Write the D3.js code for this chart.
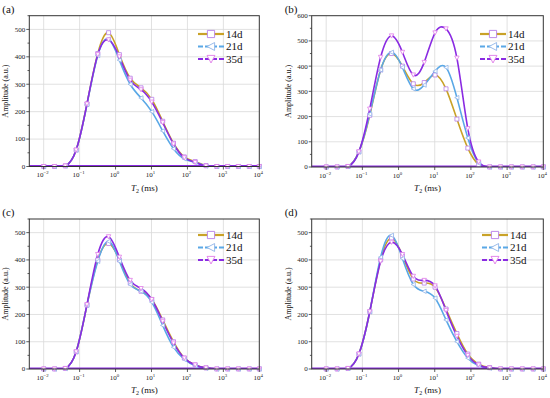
<!DOCTYPE html>
<html>
<head>
<meta charset="utf-8">
<script src="https://cdn.jsdelivr.net/npm/d3@7"></script>
<style>
  body { margin: 0; background: #fff; }
  svg { display: block; }
</style>
</head>
<body>
<script>
// T2 sampling points (ms)
var t2 = [0.01, 0.02, 0.04, 0.08, 0.16, 0.32, 0.64, 1.28, 2.56, 5.12, 10.2,
          20.5, 41, 82, 164, 328, 655, 1311, 2621, 5243, 10000];

var seriesNames = ["14d", "21d", "35d"];
var xTicks = [0.01, 0.1, 1, 10, 100, 1000, 10000];
var xTickExp = ["-2", "-1", "0", "1", "2", "3", "4"];

// panel (a)
var a14 = [0, 0, 2, 60, 228, 412, 488, 408, 322, 287, 245, 165, 85, 35, 18, 3, 0, 0, 0, 0, 0];
var a21 = [0, 0, 2, 60, 226, 405, 465, 388, 300, 250, 200, 130, 65, 28, 15, 2, 0, 0, 0, 0, 0];
var a35 = [0, 0, 2, 60, 228, 408, 462, 400, 315, 280, 235, 160, 82, 32, 15, 2, 0, 0, 0, 0, 0];
// panel (b)
var b14 = [0, 0, 2, 60, 205, 385, 450, 400, 330, 335, 365, 310, 190, 75, 10, 0, 0, 0, 0, 0, 0];
var b21 = [0, 0, 2, 60, 210, 385, 455, 395, 310, 325, 380, 395, 275, 115, 15, 0, 0, 0, 0, 0, 0];
var b35 = [0, 0, 2, 60, 230, 435, 520, 455, 365, 415, 532, 548, 432, 152, 20, 0, 0, 0, 0, 0, 0];
// panel (c)
var c14 = [0, 0, 2, 63, 234, 400, 460, 400, 315, 285, 255, 180, 100, 40, 15, 4, 0, 0, 0, 0, 0];
var c21 = [0, 0, 2, 63, 234, 395, 468, 395, 310, 285, 245, 160, 80, 35, 12, 3, 0, 0, 0, 0, 0];
var c35 = [0, 0, 2, 63, 236, 420, 485, 410, 325, 295, 255, 175, 95, 40, 15, 4, 0, 0, 0, 0, 0];
// panel (d)
var d14 = [0, 0, 2, 55, 210, 400, 480, 415, 330, 315, 300, 220, 130, 55, 18, 5, 0, 0, 0, 0, 0];
var d21 = [0, 0, 2, 55, 210, 410, 490, 405, 310, 285, 260, 180, 100, 40, 12, 3, 0, 0, 0, 0, 0];
var d35 = [0, 0, 2, 55, 210, 395, 465, 420, 340, 325, 305, 215, 120, 50, 15, 4, 0, 0, 0, 0, 0];

var lineColors = ["#c9a227", "#5aa8e6", "#8a2be2"];
var markerColors = ["#b77ee8", "#8fb4e8", "#e07ae8"];
var serif = "Liberation Serif";

var panels = [
  {label: "(a)", left: 29.3, right: 259.3, top: 15.7, bottom: 166.5, ymax: 550, data: [a14, a21, a35], lx: 198, ly: 34},
  {label: "(b)", left: 311.7, right: 543.3, top: 15.7, bottom: 167, ymax: 600, data: [b14, b21, b35], lx: 480, ly: 34},
  {label: "(c)", left: 29.3, right: 259.3, top: 219, bottom: 369, ymax: 550, data: [c14, c21, c35], lx: 198, ly: 235},
  {label: "(d)", left: 311.7, right: 543.3, top: 219, bottom: 369, ymax: 550, data: [d14, d21, d35], lx: 482, ly: 235}
];

var svg = d3.select("body").append("svg")
    .attr("width", 550)
    .attr("height", 398)
    .attr("font-family", serif);
var defs = svg.append("defs");

function markerPath(k, x, y, s) {
  if (k == 0) {
    return "M" + (x - s) + "," + (y - s) + "h" + (2 * s) + "v" + (2 * s) + "h" + (-2 * s) + "Z";
  } else if (k == 1) {
    return "M" + (x - s * 1.1) + "," + y + "L" + (x + s) + "," + (y - s * 1.1) + "L" + (x + s) + "," + (y + s * 1.1) + "Z";
  }
  return "M" + (x - s * 1.1) + "," + (y - s) + "L" + (x + s * 1.1) + "," + (y - s) + "L" + x + "," + (y + s * 1.1) + "Z";
}

panels.forEach(function(p, pi) {
  var x = d3.scaleLog().domain([Math.pow(10, -2.4), 1e4]).range([p.left, p.right]);
  var y = d3.scaleLinear().domain([0, p.ymax]).range([p.bottom, p.top]);
  var g = svg.append("g");

  defs.append("clipPath").attr("id", "clip" + pi)
    .append("rect").attr("x", p.left).attr("y", p.top)
      .attr("width", p.right - p.left).attr("height", p.bottom - p.top - 0.6);

  // grid
  g.selectAll("line.vg").data(xTicks.slice(0, -1)).enter().append("line")
      .attr("x1", function(d) { return x(d); }).attr("x2", function(d) { return x(d); })
      .attr("y1", p.top).attr("y2", p.bottom)
      .attr("stroke", "#d9d9d9").attr("stroke-width", 0.8);
  var yt = d3.range(100, p.ymax, 100);
  g.selectAll("line.hg").data(yt).enter().append("line")
      .attr("x1", p.left).attr("x2", p.right)
      .attr("y1", function(d) { return y(d); }).attr("y2", function(d) { return y(d); })
      .attr("stroke", "#d9d9d9").attr("stroke-width", 0.8);

  // series lines
  var line = d3.line()
      .x(function(d, i) { return x(t2[i]); })
      .y(function(d) { return y(d); })
      .curve(d3.curveNatural);
  var lg = g.append("g").attr("clip-path", "url(#clip" + pi + ")");
  p.data.forEach(function(s, k) {
    lg.append("path").attr("d", line(s))
        .attr("fill", "none").attr("stroke", lineColors[k]).attr("stroke-width", 1.6);
  });
  // flat baseline where all curves sit on zero
  g.append("line").attr("x1", p.left).attr("x2", p.right)
      .attr("y1", p.bottom - 0.8).attr("y2", p.bottom - 0.8)
      .attr("stroke", lineColors[2]).attr("stroke-width", 1.4);
  p.data.forEach(function(s, k) {
    g.selectAll("path.m" + k).data(s).enter().append("path")
        .attr("d", function(d, i) { return markerPath(k, x(t2[i]), y(d), 2); })
        .attr("fill", "#fff").attr("stroke", markerColors[k]).attr("stroke-width", 0.8);
  });

  // frame
  g.append("rect").attr("x", p.left).attr("y", p.top)
      .attr("width", p.right - p.left).attr("height", p.bottom - p.top)
      .attr("fill", "none").attr("stroke", "#333").attr("stroke-width", 1);

  // y axis ticks
  var yAll = d3.range(0, p.ymax + 1, 100);
  g.selectAll("line.yt").data(d3.range(0, p.ymax + 1, 50)).enter().append("line")
      .attr("x1", function(d) { return d % 100 == 0 ? p.left - 3 : p.left - 1.8; }).attr("x2", p.left)
      .attr("y1", function(d) { return y(d); }).attr("y2", function(d) { return y(d); })
      .attr("stroke", "#333").attr("stroke-width", 0.8);
  g.selectAll("text.yl").data(yAll).enter().append("text")
      .attr("x", p.left - 4).attr("y", function(d) { return y(d) + 2.4; })
      .attr("text-anchor", "end").attr("font-size", 7).attr("fill", "#222")
      .text(function(d) { return d; });

  // x axis ticks
  g.selectAll("line.xt").data(xTicks).enter().append("line")
      .attr("x1", function(d) { return x(d); }).attr("x2", function(d) { return x(d); })
      .attr("y1", p.bottom).attr("y2", p.bottom + 3)
      .attr("stroke", "#333").attr("stroke-width", 0.8);
  var xl = g.selectAll("text.xl").data(xTicks).enter().append("text")
      .attr("x", function(d) { return x(d) - 1; }).attr("y", p.bottom + 10.5)
      .attr("text-anchor", "middle").attr("font-size", 7).attr("fill", "#222");
  xl.append("tspan").text("10");
  xl.append("tspan").attr("dy", -3).attr("font-size", 4.8)
      .text(function(d, i) { return xTickExp[i].replace("-", "\u2212"); });

  // axis titles
  var xt = g.append("text")
      .attr("x", (p.left + p.right) / 2).attr("y", p.bottom + 24)
      .attr("text-anchor", "middle").attr("font-size", 9).attr("fill", "#111");
  xt.append("tspan").attr("font-style", "italic").text("T");
  xt.append("tspan").attr("dy", 2).attr("font-size", 6).text("2");
  xt.append("tspan").attr("dy", -2).text(" (ms)");

  g.append("text")
      .attr("transform", "translate(" + (p.left - 21) + "," + ((p.top + p.bottom) / 2) + ") rotate(-90)")
      .attr("text-anchor", "middle").attr("font-size", 8).attr("fill", "#111")
      .text("Amplitude (a.u.)");

  // panel label
  g.append("text").attr("x", p.left - 27).attr("y", p.top - 3)
      .attr("font-size", 11).attr("fill", "#111").text(p.label);

  // legend
  seriesNames.forEach(function(n, k) {
    var ly = p.ly + k * 12.5;
    g.append("line").attr("x1", p.lx).attr("x2", p.lx + 26)
        .attr("y1", ly).attr("y2", ly)
        .attr("stroke", lineColors[k]).attr("stroke-width", 2.2)
        .attr("stroke-dasharray", k == 0 ? null : "5,2");
    g.append("path").attr("d", markerPath(k, p.lx + 13, ly, 3.6))
        .attr("fill", "#fff").attr("stroke", markerColors[k]).attr("stroke-width", 0.9);
    g.append("text").attr("x", p.lx + 28).attr("y", ly + 3.6)
        .attr("font-size", 11).attr("fill", "#111").text(n);
  });
});
</script>
</body>
</html>
